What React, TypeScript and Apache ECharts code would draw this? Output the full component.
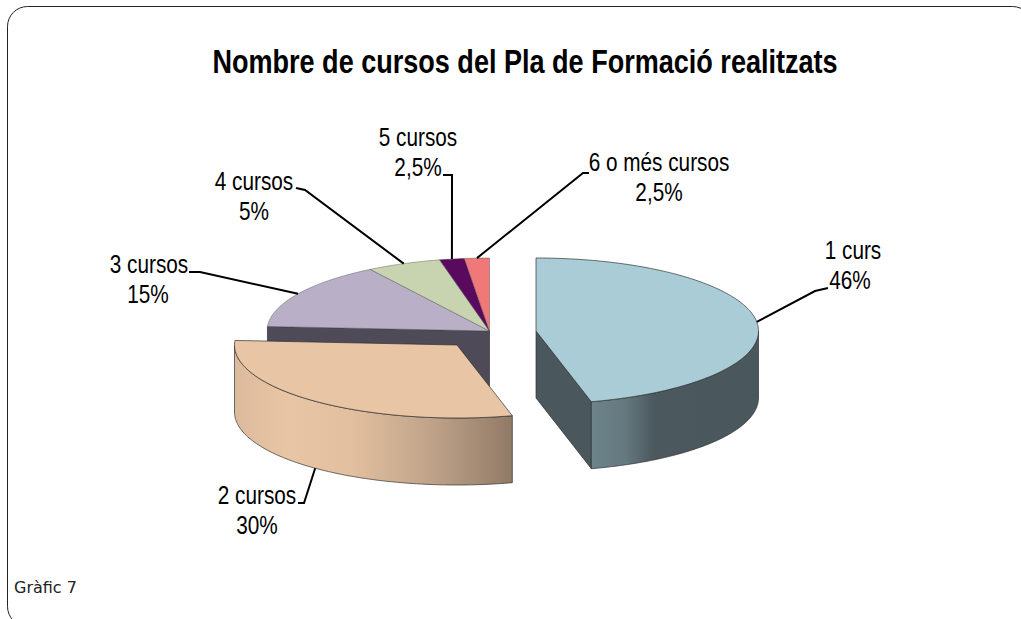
import React, { useEffect, useRef } from "react";
import * as echarts from "echarts";

const titleText = "Nombre de cursos del Pla de Formació realitzats";
const captionText = "Gràfic 7";
const categories = ["1 curs", "2 cursos", "3 cursos", "4 cursos", "5 cursos", "6 o més cursos"];
const percentLabels = ["46%", "30%", "15%", "5%", "2,5%", "2,5%"];
const sliceValues = [46, 30, 15, 5.4, 1.8, 1.8];

const topColors = ["#aaccd6", "#e8c5a5", "#b9b0c8", "#c8d4af", "#5a0a5e", "#f07878"];
const apexes = [[536, 331], [457, 345], [489.5, 331], [489.5, 331], [489.5, 331], [489.5, 331]];
const labelCentres = [[853, 265], [257, 510], [149, 279], [254, 196], [418, 152], [659, 177]];
const percentShift = [-3, 0, -1, 0, 0, 0];
const leaderBends = [
  [[815, 291], [828, 288]],
  [[304, 503], [298, 503]],
  [[200, 272], [189, 272]],
  [[305, 190], [296, 188]],
  [[452, 175], [443, 175]],
  [[583, 173], [589, 173]],
];
const paintOrder = [2, 3, 4, 5, 1, 0];

const RX = 222.5;
const RY = 73;
const DEPTH = 67;
const EDGE = "rgba(45,45,45,0.85)";
const FONT = '25px "Liberation Sans", Arial, sans-serif';
const LABEL_SCALE = 0.83;

const total = sliceValues.reduce((a, b) => a + b, 0);
const startAngle = (i: number) =>
  (sliceValues.slice(0, i).reduce((a, b) => a + b, 0) / total) * 360;
const endAngle = (i: number) => startAngle(i + 1);
const rimPoint = (apex: number[], deg: number, dy = 0) => {
  const t = (deg * Math.PI) / 180;
  return [apex[0] + RX * Math.sin(t), apex[1] - RY * Math.cos(t) + dy];
};
const arc = (apex: number[], from: number, to: number, dy = 0) => {
  const pts: number[][] = [];
  const n = Math.max(2, Math.ceil(Math.abs(to - from)));
  for (let k = 0; k <= n; k++) pts.push(rimPoint(apex, from + ((to - from) * k) / n, dy));
  return pts;
};
const poly = (points: number[][], fill: any, stroke = EDGE) => ({
  type: "polygon",
  shape: { points },
  style: { fill, stroke, lineWidth: 0.8 },
});
const stops = (list: [number, string][]) => list.map(([offset, color]) => ({ offset, color }));

const rimGradients: Record<number, [number, string][]> = {
  0: [
    [0, "#6d848b"],
    [0.2, "#65797f"],
    [0.38, "#4b585e"],
    [1, "#4a575d"],
  ],
  1: [
    [0, "#dcbb9c"],
    [0.2, "#e8c5a5"],
    [0.42, "#e2bf9f"],
    [0.7, "#c0a48a"],
    [1, "#917a66"],
  ],
};

function renderSlice(params: any) {
  const i = paintOrder[params.dataIndex];
  const apex = apexes[i];
  const a = startAngle(i);
  const b = endAngle(i);
  const children: any[] = [];

  if (i === 2) {
    const left = rimPoint(apex, a);
    children.push(
      poly([apex, left, [left[0], left[1] + DEPTH], [apex[0], apex[1] + DEPTH]], "#4e4a57")
    );
  }
  if (i === 0) {
    const p = rimPoint(apex, b);
    children.push(
      poly([apex, p, [p[0], p[1] + DEPTH], [apex[0], apex[1] + DEPTH]], "#4a575d")
    );
  }
  const from = Math.max(a, 90);
  const to = Math.min(b, 270);
  if (to > from && rimGradients[i]) {
    const upper = arc(apex, from, to);
    const lower = arc(apex, to, from, DEPTH);
    children.push(
      poly(
        upper.concat(lower),
        new echarts.graphic.LinearGradient(0, 0, 1, 0, stops(rimGradients[i]))
      )
    );
  }
  children.push(
    poly(
      [apex].concat(arc(apex, a, b)),
      topColors[i],
      i < 2 ? EDGE : "rgba(80,80,80,0.55)"
    )
  );
  return { type: "group", children };
}

function renderLeader(params: any) {
  const i = params.dataIndex;
  const mid = (startAngle(i) + endAngle(i)) / 2;
  const isFront = mid > 90 && mid < 270;
  const start = rimPoint(apexes[i], mid, isFront ? DEPTH : 0);
  const [cx, cy] = labelCentres[i];
  const textEl = (text: string, x: number, y: number) => ({
    type: "text",
    x,
    y,
    scaleX: LABEL_SCALE,
    style: { text, x: 0, y: 0, font: FONT, fill: "#000", align: "center", verticalAlign: "middle" },
  });
  return {
    type: "group",
    children: [
      {
        type: "polyline",
        shape: { points: [start].concat(leaderBends[i]) },
        style: { stroke: "#000", lineWidth: 2, fill: "none" },
      },
      textEl(categories[i], cx, cy - 15),
      textEl(percentLabels[i], cx + percentShift[i], cy + 15),
    ],
  };
}

export default function App() {
  const ref = useRef<HTMLDivElement>(null);
  useEffect(() => {
    document.body.style.margin = "0";
    const chart = echarts.init(ref.current!, undefined, { renderer: "svg" });
    chart.setOption({
      animation: false,
      backgroundColor: "#fff",
      graphic: [
        {
          type: "rect",
          shape: { x: 7.5, y: 6.5, width: 1025, height: 620, r: 20 },
          style: { fill: "none", stroke: "#222", lineWidth: 1 },
          silent: true,
        },
        {
          type: "text",
          x: 525,
          y: 62,
          scaleX: 0.82,
          style: {
            text: titleText,
            x: 0,
            y: 0,
            font: 'bold 33px "Liberation Sans", Arial, sans-serif',
            fill: "#000",
            align: "center",
            verticalAlign: "middle",
          },
        },
        {
          type: "text",
          style: {
            text: captionText,
            x: 14,
            y: 587,
            font: '16px "DejaVu Sans", Verdana, sans-serif',
            fill: "#222",
            verticalAlign: "middle",
          },
        },
      ],
      series: [
        {
          type: "custom",
          coordinateSystem: "none",
          renderItem: renderSlice,
          data: paintOrder.map((i) => ({ name: categories[i], value: sliceValues[i] })),
          silent: true,
          z: 2,
        },
        {
          type: "custom",
          coordinateSystem: "none",
          renderItem: renderLeader,
          data: categories.map((name, i) => ({ name, value: sliceValues[i] })),
          silent: true,
          z: 3,
        },
      ],
    });
    return () => chart.dispose();
  }, []);
  return <div ref={ref} style={{ width: 1021, height: 619, position: "fixed", left: 0, top: 0 }} />;
}
